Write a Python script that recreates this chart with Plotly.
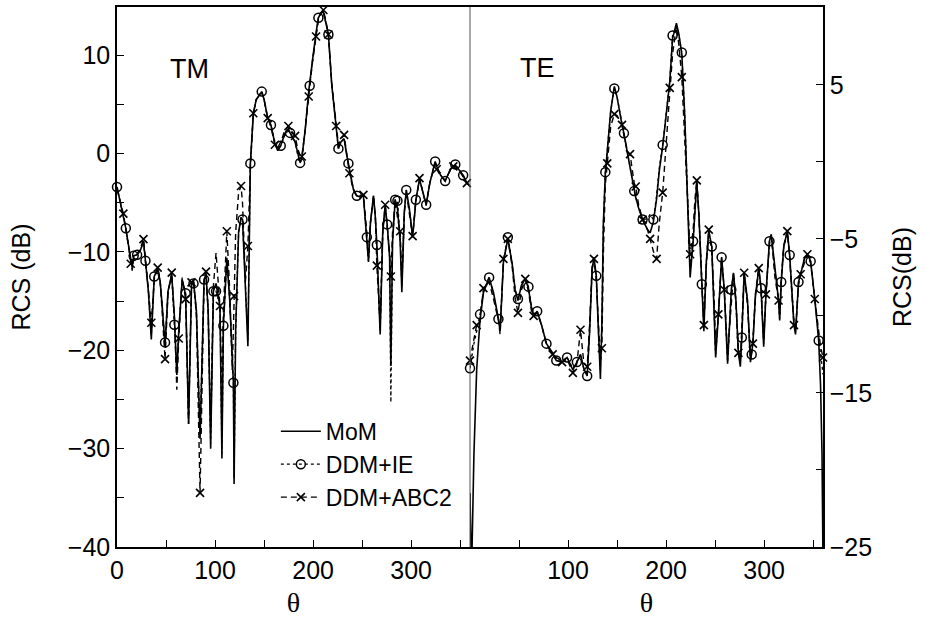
import plotly.graph_objects as go

# ---------------- TM polarisation (left panel) ----------------
tm_theta = [0, 3, 6.5, 9, 12, 14, 15.5, 17, 20.5, 24, 27, 29, 32, 35, 38, 41.5, 44, 46.5, 49, 52,
            55.8, 58.5, 61, 63, 66.5, 70, 73, 76, 78, 81, 84.7, 88.8, 90.8, 93, 95.5, 98.3, 101, 105,
            107, 108.5, 112, 115, 117.5, 118.7, 119.4, 121, 124, 126.5, 128, 131, 133.5, 136, 139, 142,
            147.6, 150, 153.7, 157, 161, 164, 167, 171, 174.8, 176.5, 181.6, 184, 186.7, 188.5, 192,
            195.5, 196.5, 199, 203, 205.4, 208, 210.5, 213, 215.6, 219, 223.5, 225.8, 228.5, 231.6, 234,
            236, 237, 241, 244.6, 248, 251.3, 254.8, 256.5, 258.5, 261.6, 263.5, 265, 268.4, 271, 273.5,
            275.5, 278, 279.3, 281, 283.7, 286, 288.8, 290.5, 293, 295, 298, 301.5, 304.8, 308.5, 312,
            315.3, 319, 324.5, 326, 330, 334.7, 340, 343, 345, 350, 353, 356.8, 360]
tm_mom = [-3.4, -4.8, -6.1, -7.6, -9.5, -11.0, -11.6, -10.4, -10.3, -9.8, -8.9, -10.9, -14.0, -18.9, -12.5, -11.7, -13.0, -16.0, -19.6, -14.0,
          -12.3, -16.5, -22.5, -18.0, -12.8, -14.4, -27.5, -13.4, -12.9, -16.0, -29.0, -12.8, -12.3, -16.0, -30.0, -14.0, -13.2, -15.5,
          -31.0, -17.5, -10.6, -15.0, -20.5, -23.3, -33.6, -18.0, -8.0, -6.5, -6.7, -13.0, -19.6, -1.0, 4.0, 5.5,
          6.3, 5.5, 3.6, 2.9, 1.0, 0.3, 0.8, 2.0, 2.5, 2.1, 1.2, 0.2, -0.9, -0.5, 2.5,
          6.3, 7.0, 9.2, 12.3, 13.8, 14.3, 14.4, 13.3, 12.1, 7.0, 2.3, 0.5, 1.2, 1.5, 0.0,
          -1.0, -1.7, -3.6, -4.3, -4.4, -4.3, -8.5, -11.0, -7.0, -4.3, -6.5, -9.3, -18.4, -8.0, -5.3,
          -7.2, -10.5, -21.6, -9.0, -4.7, -5.5, -9.0, -14.1, -6.0, -3.7, -5.5, -8.5, -4.7, -2.6, -3.8,
          -5.2, -3.0, -0.8, -1.3, -2.2, -2.8, -1.6, -1.3, -1.2, -1.8, -2.2, -3.0, -3.3]
tm_ie = [-3.4, -4.8, -6.2, -7.6, -9.5, -11.0, -11.4, -10.4, -10.3, -9.8, -9.0, -10.9, -14.0, -18.5, -12.5, -11.8, -13.0, -16.0, -19.2, -14.0,
         -12.4, -17.4, -22.0, -18.0, -12.9, -14.2, -27.0, -13.4, -13.2, -16.0, -28.5, -12.8, -12.5, -16.0, -29.5, -14.0, -14.0, -15.5,
         -30.5, -17.5, -10.8, -15.0, -20.5, -23.3, -33.0, -18.0, -8.0, -6.5, -6.7, -13.0, -19.0, -1.0, 4.0, 5.5,
         6.3, 5.5, 3.6, 2.9, 1.2, 0.5, 0.8, 1.8, 2.3, 2.1, 1.2, 0.0, -0.95, -0.6, 2.5,
         6.3, 6.9, 9.2, 12.3, 13.8, 14.3, 14.3, 13.3, 12.1, 7.0, 2.3, 0.5, 1.2, 1.5, 0.0,
         -1.0, -1.7, -3.6, -4.3, -4.4, -4.3, -8.5, -11.0, -7.0, -4.3, -6.5, -9.3, -18.0, -8.0, -5.3,
         -7.2, -10.5, -25.3, -9.0, -4.7, -4.8, -8.5, -13.5, -6.0, -3.7, -5.5, -8.5, -4.7, -2.6, -3.8,
         -5.2, -3.0, -0.8, -1.3, -2.2, -2.8, -1.6, -1.3, -1.1, -1.8, -2.2, -3.0, -3.3]
tm_abc = [-3.6, -4.9, -6.1, -7.7, -9.6, -11.2, -11.9, -10.6, -10.2, -9.6, -8.7, -10.6, -13.8, -17.2, -12.8, -11.6, -12.8, -16.5, -20.9, -14.3,
          -12.1, -16.5, -24.0, -18.8, -12.6, -14.8, -27.5, -13.1, -12.8, -16.5, -34.5, -13.0, -12.0, -16.0, -28.0, -13.5, -10.1, -15.5,
          -25.0, -16.0, -7.9, -14.0, -22.0, -18.0, -14.5, -8.0, -4.0, -3.3, -5.0, -13.0, -9.4, -1.5, 4.1, 5.5,
          6.2, 5.5, 3.6, 2.7, 0.9, 0.6, 1.2, 2.3, 2.8, 2.5, 1.8, 0.6, -0.2, -0.3, 2.5,
          5.8, 6.6, 9.0, 11.9, 13.6, 14.3, 14.6, 13.5, 12.1, 7.2, 2.8, 0.9, 1.5, 1.9, 0.2,
          -1.2, -2.0, -3.7, -4.4, -4.3, -4.2, -8.0, -10.5, -7.0, -4.3, -6.5, -11.4, -17.5, -8.0, -5.2,
          -7.5, -10.0, -12.5, -8.0, -4.7, -6.5, -7.9, -13.0, -6.0, -3.9, -6.0, -8.4, -4.9, -2.5, -4.0,
          -5.3, -3.0, -1.0, -1.6, -2.3, -2.7, -1.7, -1.3, -1.3, -1.9, -2.4, -3.0, -3.3]
tm_ie_marks = [0, 9, 17, 20.5, 29, 38, 49, 58.5, 70, 78, 88.8, 98.3, 101, 108.5, 118.7, 128, 136,
               147.6, 157, 167, 176.5, 186.7, 196.5, 205.4, 215.6, 225.8, 236, 244.6, 254.8, 265,
               275.5, 283.7, 286, 295, 304.8, 315.3, 324.5, 334.7, 345, 353]
tm_abc_marks = [6.5, 14, 27, 35, 41.5, 49, 55.8, 63, 70, 76, 84.7, 90.8, 105, 112, 119.4, 126.5,
                133.5, 139, 153.7, 161, 174.8, 181.6, 188.5, 195.5, 203, 210.5, 215.6, 223.5, 231.6,
                237, 251.3, 265, 273.5, 279.3, 288.8, 301.5, 308.5, 326, 343, 356.8]

# ---------------- TE polarisation (right panel) ----------------
te_theta = [0, 1.5, 4, 6.8, 10.2, 13.7, 19.5, 24, 29, 30.7, 34.1, 38.6, 43, 46, 48.9, 52.5, 56.4,
            59.6, 62.5, 64.9, 68.5, 73, 78, 84.3, 88, 93.9, 99, 104.9, 109, 112.7, 116, 119.5, 122,
            124.5, 126.4, 128.8, 131, 133, 134.5, 136, 138, 140, 143.5, 147.2, 150, 155, 157, 161,
            163.2, 167.5, 169, 172, 176, 181, 183.7, 187, 190.3, 193, 196.5, 200, 203.7, 206.6, 210.5,
            213, 216, 219, 222, 224.5, 227.5, 229.3, 231.3, 233.5, 236.4, 238.5, 241, 243.5, 246.6,
            248.8, 250.5, 253.3, 256.6, 259.3, 262.7, 266.5, 268.7, 271.2, 273.7, 275.7, 277.2, 279.6,
            283, 286, 287.3, 288.5, 291, 294.5, 296.8, 299.5, 301.8, 305.4, 307.2, 311, 314.7, 315.8,
            317.4, 320, 323.6, 326, 328, 330.4, 332, 335, 337.2, 341, 344.1, 347.4, 351.6, 355.6,
            357.5, 359, 360]
te_mom = [-21.5, -27.0, -19.0, -13.5, -10.3, -8.5, -7.5, -8.5, -10.2, -11.0, -6.5, -5.0, -6.6, -8.3, -9.0, -8.0, -7.6,
          -8.2, -9.4, -10.0, -9.7, -10.6, -11.8, -12.4, -12.9, -13.0, -12.7, -13.5, -13.0, -12.5, -13.4, -13.9, -11.0,
          -7.0, -6.2, -7.4, -11.0, -14.1, -10.5, -4.0, -0.8, 0.6, 3.3, 4.9, 4.2, 2.4, 1.85, 0.4,
          -0.3, -1.9, -2.3, -3.0, -3.75, -4.4, -4.6, -3.9, -2.4, -0.6, 1.0, 3.0, 5.2, 8.0, 9.0,
          8.3, 7.0, 3.0, -2.5, -7.5, -5.2, -3.0, -1.3, -3.5, -8.0, -11.0, -6.5, -4.5, -5.5,
          -9.0, -12.7, -10.0, -6.2, -8.3, -13.1, -8.3, -7.2, -9.0, -12.4, -13.3, -11.4, -7.2,
          -9.0, -13.0, -12.5, -11.8, -8.8, -6.9, -8.2, -12.0, -8.6, -5.15, -4.7, -7.0, -9.0, -10.3,
          -7.8, -5.5, -4.5, -6.05, -8.0, -10.6, -11.2, -7.8, -7.3, -6.3, -6.0, -6.45, -8.9, -11.6,
          -14.5, -19.0, -26.0]
te_ie = [-13.4, -12.8, -11.8, -11.0, -9.9, -8.4, -7.5, -8.6, -10.2, -10.9, -6.5, -4.9, -6.6, -8.3, -8.9, -8.0, -7.6,
         -8.1, -9.3, -9.9, -9.7, -10.6, -11.8, -12.5, -12.9, -13.0, -12.7, -13.4, -13.0, -12.6, -13.4, -13.9, -11.0,
         -7.0, -6.4, -7.4, -11.0, -13.5, -10.5, -4.0, -0.67, 0.6, 3.3, 4.76, 4.2, 2.5, 1.85, 0.5,
         -0.3, -1.9, -2.3, -3.0, -3.75, -3.7, -3.4, -3.75, -2.2, -0.4, 1.1, 3.0, 5.2, 8.2, 8.8,
         8.2, 7.1, 3.0, -2.5, -7.0, -5.15, -3.0, -1.4, -3.5, -7.95, -10.5, -6.5, -4.6, -5.5,
         -9.0, -12.5, -10.0, -6.2, -8.3, -13.0, -8.3, -7.3, -9.0, -12.2, -13.0, -11.4, -7.3,
         -9.0, -12.8, -12.5, -11.6, -8.8, -7.0, -8.2, -11.8, -8.6, -5.15, -4.8, -7.0, -9.0, -10.2,
         -7.8, -5.5, -4.6, -6.05, -8.0, -10.4, -11.0, -7.8, -7.3, -6.3, -6.1, -6.45, -8.9, -11.6,
         -12.5, -13.2, -13.8]
te_abc = [-12.9, -12.3, -11.5, -10.6, -10.3, -8.2, -7.8, -8.9, -10.3, -11.2, -6.3, -5.0, -6.8, -8.8, -9.8, -8.3, -7.6,
          -8.4, -9.6, -10.0, -9.8, -10.6, -11.9, -12.5, -12.7, -13.0, -12.8, -13.7, -13.1, -10.9, -13.0, -13.3, -10.5,
          -6.8, -6.3, -7.7, -10.5, -12.8, -12.1, -6.0, -1.5, -0.1, 2.3, 3.1, 3.0, 2.4, 1.7, 0.6,
          0.5, -1.4, -1.6, -2.8, -3.75, -4.4, -5.0, -5.8, -6.3, -4.0, -2.0, 1.0, 4.8, 7.0, 8.8,
          7.6, 5.5, 1.5, -3.5, -6.0, -4.5, -2.5, -1.2, -3.5, -8.0, -10.6, -6.8, -4.4, -5.8,
          -8.5, -12.0, -9.9, -6.3, -8.3, -12.5, -8.8, -7.3, -9.2, -12.4, -12.9, -11.0, -7.2,
          -9.3, -12.6, -12.2, -11.8, -8.6, -6.9, -8.3, -11.5, -8.6, -5.3, -4.8, -7.5, -9.0, -9.9,
          -7.6, -5.4, -4.5, -6.2, -8.3, -10.6, -11.0, -8.0, -7.3, -6.5, -6.0, -6.6, -8.9, -11.3,
          -12.0, -12.4, -12.7]
te_ie_marks = [0, 10.2, 19.5, 29, 38.6, 48.9, 59.6, 68.5, 78, 88, 99, 109, 119.5, 128.8, 138, 147.2,
               157, 167.5, 176, 187, 196.5, 206.6, 216, 227.5, 236.4, 246.6, 256.6, 266.5, 277.2,
               287.3, 296.8, 305.4, 317.4, 326, 335, 347.4, 355.6]
te_abc_marks = [0, 6.8, 13.7, 34.1, 38.6, 48.9, 56.4, 64.9, 84.3, 93.9, 104.9, 112.7, 119.5, 126.4,
                134.5, 140, 147.2, 155, 163.2, 169, 176, 183.7, 190.3, 196.5, 203.7, 216, 224.5,
                231.3, 238.5, 243.5, 253.3, 259.3, 273.7, 279.6, 288.5, 294.5, 301.8, 314.7, 323.6,
                330.4, 337.2, 344.1, 351.6, 360]

# tick labels
tm_x_ticktext = ["0", "", "100", "", "200", "", "300", ""]
te_x_ticktext = ["", "100", "", "200", "", "300", ""]
tm_y_ticktext = ["\u221240", "", "\u221230", "", "\u221220", "", "\u221210", "", "0", "", "10"]
te_y_ticktext = ["\u221225", "", "\u221215", "", "\u22125", "", "5", ""]

BLACK = "black"
SANS = "Liberation Sans, Arial, sans-serif"
SERIF = "Liberation Serif, DejaVu Serif, serif"

STYLE = {
    "MoM": dict(line=dict(color=BLACK, width=1.6, dash="solid")),
    "DDM+IE": dict(line=dict(color=BLACK, width=1.3, dash="dot"),
                   marker=dict(symbol="circle-open", size=9, color=BLACK, line=dict(width=1.5, color=BLACK))),
    "DDM+ABC2": dict(line=dict(color=BLACK, width=1.4, dash="6px,4px"),
                     marker=dict(symbol="x-thin-open", size=8, color=BLACK, line=dict(width=1.6, color=BLACK))),
}


def pick(theta, vals, marks):
    lut = dict(zip(theta, vals))
    return marks, [lut[t] for t in marks]


fig = go.Figure()


def add_panel(theta, mom, ie, abc, ie_marks, abc_marks, xa, ya):
    fig.add_trace(go.Scatter(x=theta, y=abc, mode="lines", line=STYLE["DDM+ABC2"]["line"],
                             xaxis=xa, yaxis=ya, showlegend=False, hoverinfo="skip"))
    fig.add_trace(go.Scatter(x=theta, y=ie, mode="lines", line=STYLE["DDM+IE"]["line"],
                             xaxis=xa, yaxis=ya, showlegend=False, hoverinfo="skip"))
    fig.add_trace(go.Scatter(x=theta, y=mom, mode="lines", line=STYLE["MoM"]["line"],
                             xaxis=xa, yaxis=ya, showlegend=False, hoverinfo="skip"))
    mx, my = pick(theta, ie, ie_marks)
    fig.add_trace(go.Scatter(x=mx, y=my, mode="markers", marker=STYLE["DDM+IE"]["marker"],
                             xaxis=xa, yaxis=ya, showlegend=False, cliponaxis=False))
    mx, my = pick(theta, abc, abc_marks)
    fig.add_trace(go.Scatter(x=mx, y=my, mode="markers", marker=STYLE["DDM+ABC2"]["marker"],
                             xaxis=xa, yaxis=ya, showlegend=False, cliponaxis=False))


add_panel(tm_theta, tm_mom, tm_ie, tm_abc, tm_ie_marks, tm_abc_marks, "x", "y")
add_panel(te_theta, te_mom, te_ie, te_abc, te_ie_marks, te_abc_marks, "x2", "y2")

# legend entries (style keys only)
fig.add_trace(go.Scatter(x=[None], y=[None], mode="lines", name="MoM", line=STYLE["MoM"]["line"]))
fig.add_trace(go.Scatter(x=[None], y=[None], mode="lines+markers", name="DDM+IE",
                         line=STYLE["DDM+IE"]["line"], marker=STYLE["DDM+IE"]["marker"]))
fig.add_trace(go.Scatter(x=[None], y=[None], mode="lines+markers", name="DDM+ABC2",
                         line=STYLE["DDM+ABC2"]["line"], marker=STYLE["DDM+ABC2"]["marker"]))

axis_common = dict(showline=True, linecolor=BLACK, linewidth=1.5, ticks="inside", ticklen=7,
                   tickwidth=1.2, tickcolor=BLACK, showgrid=False, zeroline=False,
                   tickfont=dict(family=SANS, size=25, color=BLACK))

fig.update_layout(
    width=930, height=618,
    margin=dict(l=117, r=107, t=5, b=71),
    paper_bgcolor="white", plot_bgcolor="white",
    font=dict(family=SANS, color=BLACK),
    xaxis=dict(domain=[0, 0.5], range=[0, 360], anchor="y", mirror=True,
               tickvals=list(range(0, 360, 50)), ticktext=tm_x_ticktext,
               title=dict(text="\u03b8", font=dict(family=SERIF, size=28), standoff=10),
               **axis_common),
    xaxis2=dict(domain=[0.5, 1], range=[0, 360], anchor="y2", mirror=True,
                tickvals=list(range(50, 360, 50)), ticktext=te_x_ticktext,
                title=dict(text="\u03b8", font=dict(family=SERIF, size=28), standoff=10),
                **axis_common),
    yaxis=dict(domain=[0, 1], range=[-40, 14.9], anchor="x",
               tickvals=list(range(-40, 15, 5)), ticktext=tm_y_ticktext,
               title=dict(text="RCS (dB)", font=dict(family=SANS, size=25), standoff=30),
               **axis_common),
    yaxis2=dict(domain=[0, 1], range=[-25, 10.05], anchor="x2", side="right",
                tickvals=list(range(-25, 10, 5)), ticktext=te_y_ticktext,
                title=dict(text="RCS(dB)", font=dict(family=SANS, size=25), standoff=22),
                **axis_common),
    legend=dict(x=0.225, y=0.254, xanchor="left", yanchor="top",
                font=dict(family=SANS, size=23, color=BLACK),
                bgcolor="rgba(0,0,0,0)", tracegroupgap=0, itemwidth=40),
    shapes=[dict(type="line", xref="paper", yref="paper", x0=0.5, x1=0.5, y0=0, y1=1,
                 line=dict(color="#555555", width=1))],
    annotations=[
        dict(text="TM", xref="x", yref="y", x=74, y=8.6, showarrow=False,
             font=dict(family=SANS, size=27, color=BLACK)),
        dict(text="TE", xref="x2", yref="y2", x=68.5, y=6.1, showarrow=False,
             font=dict(family=SANS, size=27, color=BLACK)),
    ],
)

fig.write_html("out.html")
